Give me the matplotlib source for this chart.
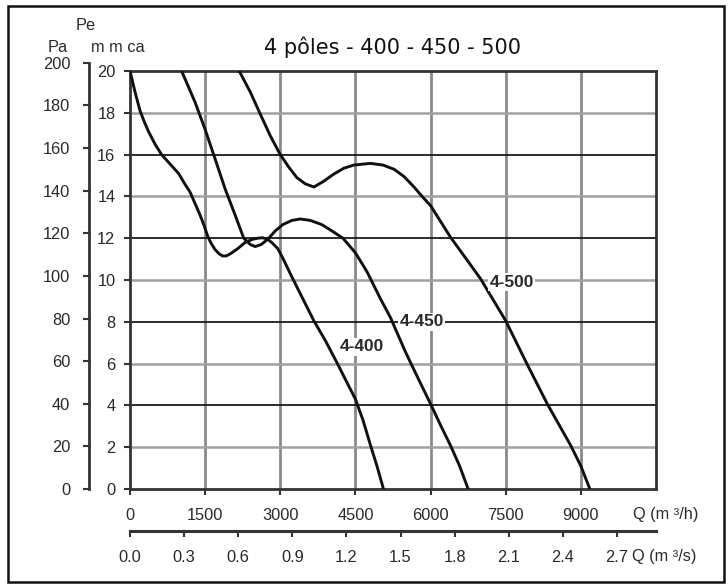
import numpy as np
import matplotlib
matplotlib.use("Agg")
import matplotlib.pyplot as plt
from matplotlib.patches import Rectangle

# fan curves, Q in m3/h, Pe in mm ca
q_400 = [0, 100, 200, 280, 370, 500, 630, 800, 970, 1080, 1200, 1300, 1400, 1480, 1550,
         1620, 1700, 1780, 1850, 1920, 2000, 2150, 2300, 2450, 2550, 2650, 2750, 2850,
         2950, 3050, 3200, 3450, 3670, 3900, 4130, 4330, 4500, 4650, 4800, 4930, 5060]
pe_400 = [20, 19.0, 18.1, 17.6, 17.1, 16.5, 16.0, 15.55, 15.1, 14.65, 14.2, 13.65, 13.1,
          12.6, 12.1, 11.75, 11.45, 11.25, 11.15, 11.15, 11.25, 11.5, 11.8, 11.95, 12.0,
          12.02, 11.95, 11.75, 11.5, 11.05, 10.3, 9.1, 8.05, 7.1, 6.05, 5.1, 4.3, 3.3,
          2.1, 1.1, 0]

q_450 = [1030, 1300, 1500, 1670, 1900, 2100, 2270, 2400, 2500, 2620, 2750, 2900, 3050,
         3230, 3400, 3600, 3830, 4030, 4250, 4500, 4730, 5000, 5200, 5500, 5750, 6000,
         6200, 6400, 6580, 6750]
pe_450 = [20, 18.5, 17.2, 16.0, 14.35, 13.1, 12.0, 11.7, 11.6, 11.7, 11.95, 12.35, 12.65,
          12.85, 12.92, 12.85, 12.65, 12.35, 12.0, 11.3, 10.4, 9.1, 8.2, 6.55, 5.3, 4.07,
          3.05, 2.07, 1.1, 0]

q_500 = [2180, 2400, 2570, 2800, 3000, 3170, 3330, 3500, 3670, 3850, 4070, 4270, 4470,
         4800, 5050, 5270, 5470, 5670, 5830, 6000, 6200, 6400, 6700, 7000, 7250, 7500,
         7900, 8330, 8570, 8800, 9000, 9180]
pe_500 = [20, 19.0, 18.1, 16.9, 16.0, 15.4, 14.9, 14.6, 14.45, 14.7, 15.07, 15.35, 15.5,
          15.58, 15.5, 15.3, 14.95, 14.45, 14.0, 13.56, 12.8, 12.04, 11.05, 10.05, 9.05, 8.05,
          6.1, 4.07, 3.05, 2.07, 1.1, 0]

curve_names = ["4-400", "4-450", "4-500"]
label_q = [4620, 5820, 7620]
label_pe = [6.8, 8.0, 9.9]

q_ticks = [0, 1500, 3000, 4500, 6000, 7500, 9000]
qs_ticks = [0.0, 0.3, 0.6, 0.9, 1.2, 1.5, 1.8, 2.1, 2.4, 2.7]
mm_ticks = list(range(0, 21, 2))
pa_ticks = list(range(0, 201, 20))

title = "4 pôles - 400 - 450 - 500"

W, H = 728, 584
tick_font = "Liberation Sans"
txt_col = "#2a2a2a"

fig = plt.figure(figsize=(W / 100, H / 100), dpi=100)

# main axes (mm ca)
left, right, top, bottom = 130, 656, 71, 489
ax = fig.add_axes([left / W, (H - bottom) / H, (right - left) / W, (bottom - top) / H])
ax.set_xlim(0, 10500)
ax.set_ylim(0, 20)

for q in q_ticks[1:]:
    ax.axvline(q, color="#8a8a8a", lw=2.0, zorder=1)
for m in mm_ticks[1:-1]:
    if m % 4 == 0:
        ax.axhline(m, color="#1a1a1a", lw=1.3, zorder=1)
    else:
        ax.axhline(m, color="#a0a0a0", lw=1.8, zorder=1)

for q, pe in [(q_400, pe_400), (q_450, pe_450), (q_500, pe_500)]:
    ax.plot(q, pe, color="#111111", lw=2.1, solid_joinstyle="round", zorder=3)

for name, lq, lp in zip(curve_names, label_q, label_pe):
    ax.text(lq, lp, name, ha="center", va="center", family=tick_font,
            fontweight="bold", fontsize=12.5, color=txt_col, zorder=4,
            bbox=dict(facecolor="white", edgecolor="none", pad=1.0))

ax.set_xticks(q_ticks)
ax.set_xticklabels([str(q) for q in q_ticks])
ax.set_yticks(mm_ticks)
ax.set_yticklabels([str(m) for m in mm_ticks])
ax.tick_params(axis="x", direction="out", length=4.5, width=1.5, pad=9.5,
               labelsize=11.8, colors="#333333", labelcolor=txt_col)
ax.tick_params(axis="y", direction="out", length=4.5, width=1.5, pad=6,
               labelsize=11.8, colors="#333333", labelcolor=txt_col)
for lab in ax.get_xticklabels() + ax.get_yticklabels():
    lab.set_family(tick_font)
for sp in ax.spines.values():
    sp.set_linewidth(2.0)
    sp.set_color("#333333")

# Pa axis
pa_h = (bottom - top) * 200 / (20 * 9.80665)
pa = fig.add_axes([89 / W, (H - bottom) / H, 0.0005, pa_h / H])
pa.set_ylim(0, 200)
pa.set_yticks(pa_ticks)
pa.set_yticklabels([str(p) for p in pa_ticks])
pa.set_xticks([])
pa.patch.set_visible(False)
for s in ["top", "right", "bottom"]:
    pa.spines[s].set_visible(False)
pa.spines["left"].set_linewidth(2.0)
pa.spines["left"].set_color("#333333")
pa.tick_params(axis="y", direction="out", length=4, width=1.5, pad=9.5,
               labelsize=11.8, colors="#333333", labelcolor=txt_col)
for lab in pa.get_yticklabels():
    lab.set_family(tick_font)

# m3/s axis
qs = fig.add_axes([left / W, (H - 531) / H, (right - left) / W, 0.0005])
qs.set_xlim(0, 10500 / 3600)
qs.set_xticks(qs_ticks)
qs.set_xticklabels(["%.1f" % v for v in qs_ticks])
qs.set_yticks([])
qs.patch.set_visible(False)
for s in ["top", "right", "left"]:
    qs.spines[s].set_visible(False)
qs.spines["bottom"].set_linewidth(2.2)
qs.spines["bottom"].set_color("#333333")
qs.tick_params(axis="x", direction="out", length=4.5, width=1.5, pad=9.5,
               labelsize=11.8, colors="#333333", labelcolor=txt_col)
for lab in qs.get_xticklabels():
    lab.set_family(tick_font)

def ftext(x, y, s, **kw):
    fig.text(x / W, 1 - y / H, s, color=txt_col, **kw)

fig.text(393 / W, 1 - 47 / H, title, ha="center", va="center", family="DejaVu Sans",
         fontsize=15, color="#111111")
ftext(633, 515, "Q (m ³/h)", ha="left", va="center", family=tick_font, fontsize=11.8)
ftext(632, 557, "Q (m ³/s)", ha="left", va="center", family=tick_font, fontsize=11.8)
ftext(86, 25, "Pe", ha="center", va="center", family=tick_font, fontsize=11.8)
ftext(68, 48, "Pa", ha="right", va="center", family=tick_font, fontsize=11.8)
ftext(91, 48, "m m ca", ha="left", va="center", family=tick_font, fontsize=11.8)

fig.patches.append(Rectangle((8 / W, 2 / H), 716 / W, 576 / H, transform=fig.transFigure,
                             fill=False, edgecolor="#111111", lw=1.8))

fig.savefig("out.png", dpi=100)
